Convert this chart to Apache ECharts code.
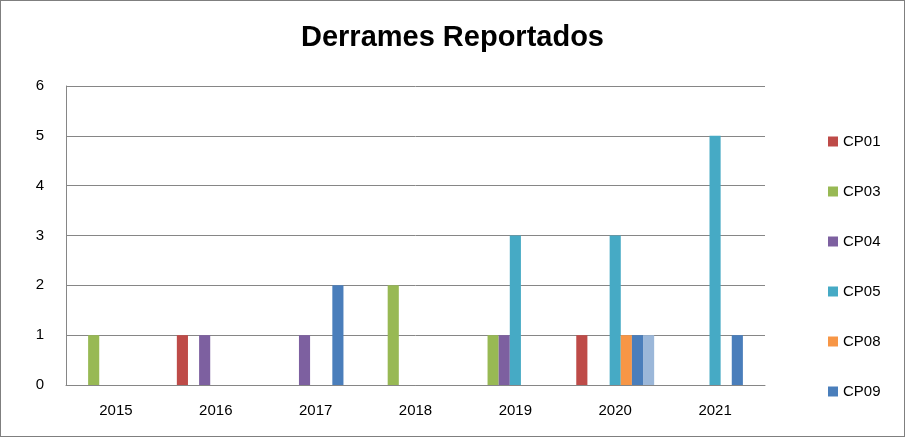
<!DOCTYPE html>
<html>
<head>
<meta charset="utf-8">
<script src="https://cdn.jsdelivr.net/npm/echarts@6/dist/echarts.min.js"></script>
<style>
  html, body { margin: 0; padding: 0; background: #fff; }
  #chart { position: absolute; left: 0; top: 0; width: 903px; height: 435px; border: 1px solid #7f7f7f; }
</style>
</head>
<body>
<div id="chart"></div>
<script>
var years = ['2015', '2016', '2017', '2018', '2019', '2020', '2021'];
var seriesNames = ['CP01', 'CP03', 'CP04', 'CP05', 'CP08', 'CP09', 'CP14'];
var colors = ['#BE4B48', '#98B954', '#7D60A0', '#46AAC5', '#F79646', '#4A7EBB', '#9BB7D9'];
var cp01 = [0, 1, 0, 0, 0, 1, 0];
var cp03 = [1, 0, 0, 2, 1, 0, 0];
var cp04 = [0, 1, 1, 0, 1, 0, 0];
var cp05 = [0, 0, 0, 0, 3, 3, 5];
var cp08 = [0, 0, 0, 0, 0, 1, 0];
var cp09 = [0, 0, 2, 0, 0, 1, 1];
var cp14 = [0, 0, 0, 0, 0, 1, 0];
var values = [cp01, cp03, cp04, cp05, cp08, cp09, cp14];

var myChart = echarts.init(document.getElementById('chart'));
var font = 'Liberation Sans, Arial, sans-serif';
var option = {
    animation: false,
    title: {
        text: 'Derrames Reportados',
        left: 'center',
        top: 17,
        textStyle: { fontFamily: font, fontSize: 29, fontWeight: 'bold', color: '#000' }
    },
    legend: {
        orient: 'vertical',
        left: 822,
        top: 128,
        itemGap: 35,
        itemWidth: 10,
        itemHeight: 10,
        icon: 'rect',
        textStyle: { fontFamily: font, fontSize: 15, color: '#000' },
        data: seriesNames
    },
    grid: { left: 65, right: 139, top: 85, bottom: 51 },
    xAxis: {
        type: 'category',
        data: years,
        axisLine: { lineStyle: { color: '#868686' } },
        axisTick: { show: false },
        axisLabel: { fontFamily: font, fontSize: 15, color: '#000', margin: 18 }
    },
    yAxis: {
        type: 'value',
        min: 0, max: 6, interval: 1,
        axisLine: { show: true, lineStyle: { color: '#868686' } },
        axisTick: { show: false },
        splitLine: { lineStyle: { color: '#868686' } },
        axisLabel: { fontFamily: font, fontSize: 15, color: '#000', margin: 22 }
    },
    series: seriesNames.map(function (name, i) {
        return {
            name: name,
            type: 'bar',
            data: values[i],
            barGap: '0%',
            barCategoryGap: '22%',
            itemStyle: { color: colors[i] }
        };
    })
};
myChart.setOption(option);
</script>
</body>
</html>
